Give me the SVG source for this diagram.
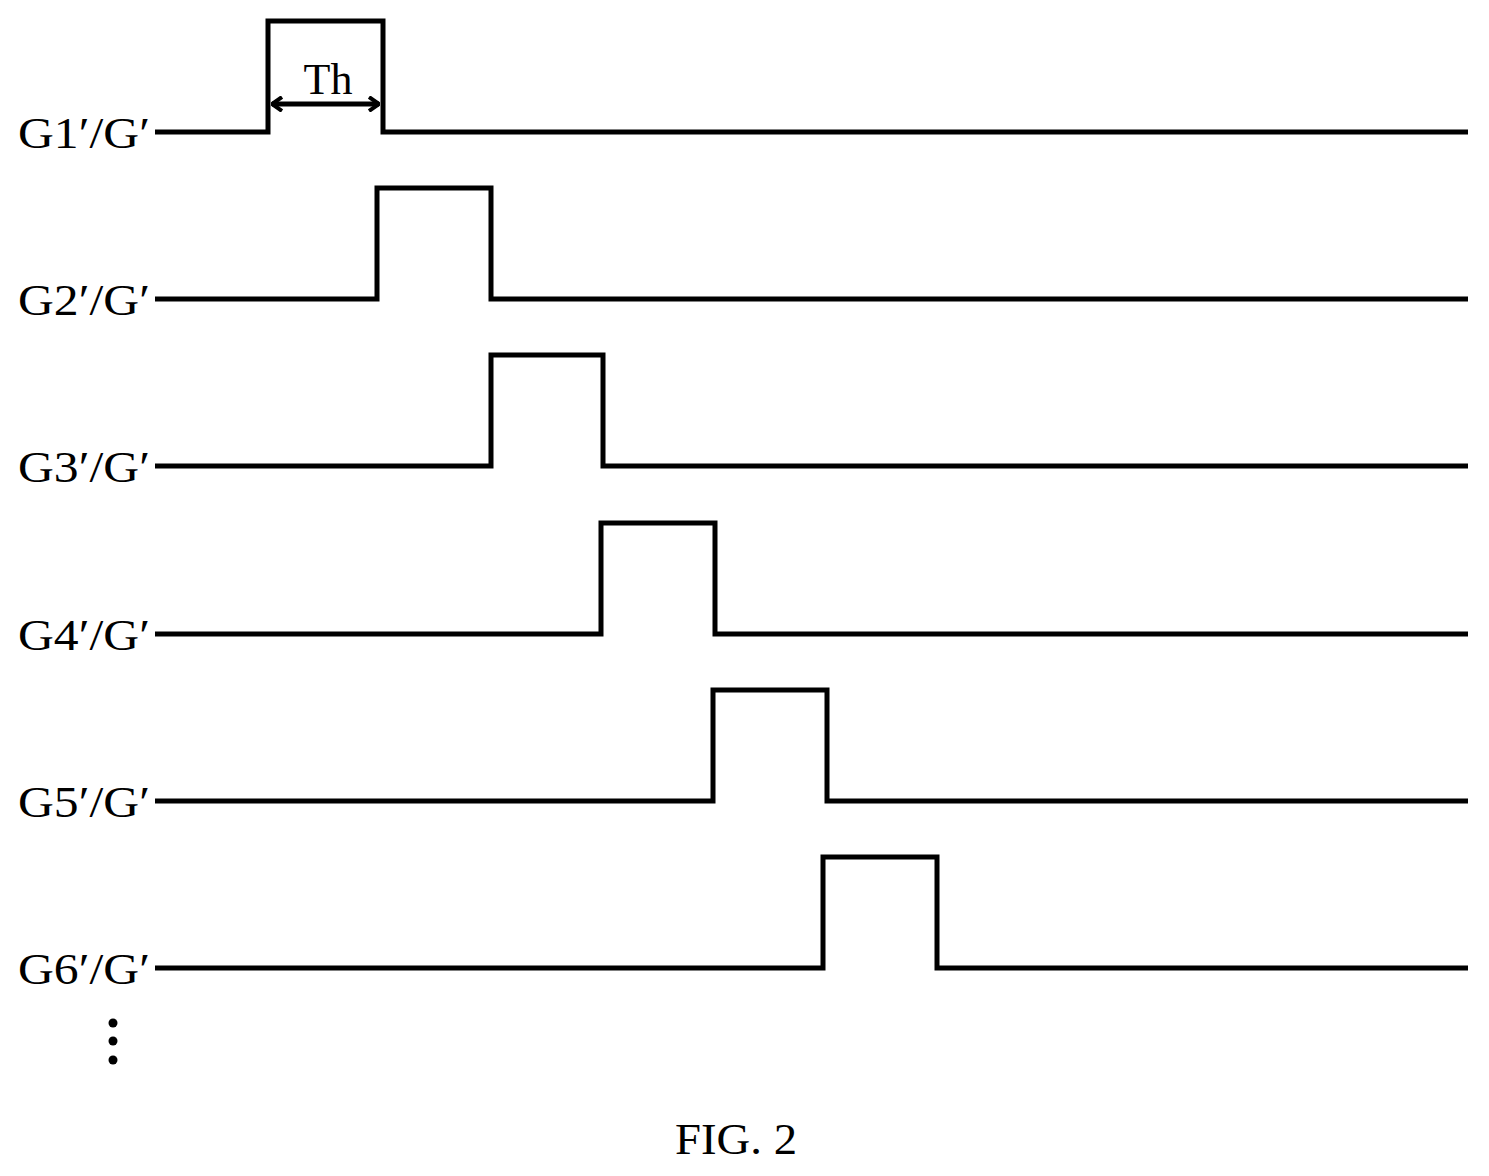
<svg xmlns="http://www.w3.org/2000/svg" width="1489" height="1176" viewBox="0 0 1489 1176">
<style>
.w{fill:none;stroke:#000;stroke-width:5;stroke-linejoin:miter}
.t{font-family:"Liberation Serif",serif;font-size:44px;fill:#000}
</style>
<defs>
<marker id="ah" viewBox="0 0 12 16" refX="11" refY="8" markerWidth="12" markerHeight="16" markerUnits="userSpaceOnUse" orient="auto-start-reverse">
<path d="M1,1 L11,8 L1,15" fill="none" stroke="#000" stroke-width="4"/>
</marker>
</defs>
<rect width="1489" height="1176" fill="#fff"/>
<g id="connectors">
<path class="w" d="M155,132 H268 V21 H383 V132 H1468"/>
<path class="w" d="M155,299 H377 V188 H491 V299 H1468"/>
<path class="w" d="M155,466 H491 V355 H603 V466 H1468"/>
<path class="w" d="M155,634 H601 V523 H715 V634 H1468"/>
<path class="w" d="M155,801 H713 V690 H827 V801 H1468"/>
<path class="w" d="M155,968 H823 V857 H937 V968 H1468"/>
<line class="w" x1="272" y1="104" x2="379" y2="104" marker-start="url(#ah)" marker-end="url(#ah)"/>
</g>
<g id="labels">
<text class="t" x="18" y="148" textLength="132" lengthAdjust="spacingAndGlyphs">G1′/G′</text>
<text class="t" x="18" y="315" textLength="132" lengthAdjust="spacingAndGlyphs">G2′/G′</text>
<text class="t" x="18" y="482" textLength="132" lengthAdjust="spacingAndGlyphs">G3′/G′</text>
<text class="t" x="18" y="650" textLength="132" lengthAdjust="spacingAndGlyphs">G4′/G′</text>
<text class="t" x="18" y="817" textLength="132" lengthAdjust="spacingAndGlyphs">G5′/G′</text>
<text class="t" x="18" y="984" textLength="132" lengthAdjust="spacingAndGlyphs">G6′/G′</text>
<text class="t" x="328" y="94" text-anchor="middle">Th</text>
<text class="t" x="675" y="1154" textLength="122" lengthAdjust="spacingAndGlyphs">FIG. 2</text>
</g>
<g id="dots">
<circle cx="113" cy="1023" r="4.5"/>
<circle cx="113" cy="1041" r="4.5"/>
<circle cx="113" cy="1060" r="4.5"/>
</g>
</svg>
